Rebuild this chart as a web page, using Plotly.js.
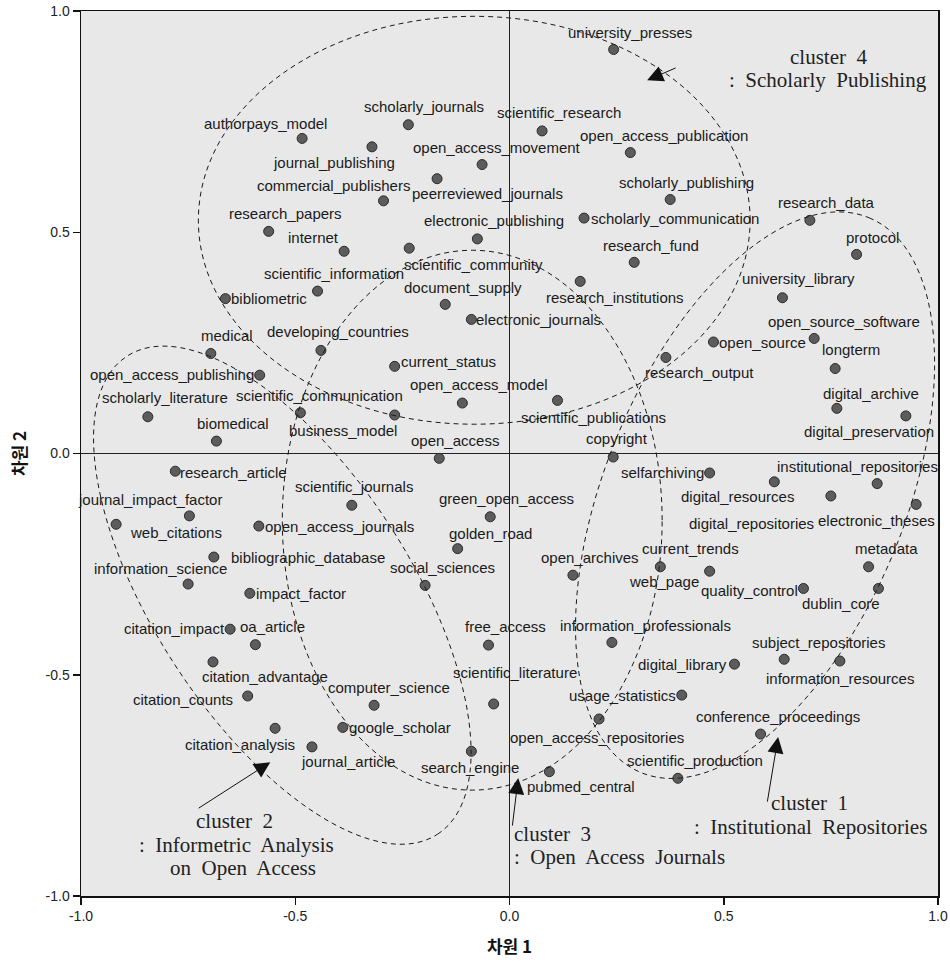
<!DOCTYPE html>
<html>
<head>
<meta charset="utf-8">
<script src="https://cdn.plot.ly/plotly-3.0.1.min.js"></script>
<style>
html,body{margin:0;padding:0;background:#fff;}
#chart{width:950px;height:962px;}
</style>
</head>
<body>
<div id="chart"></div>
<script>
// ---- data: MDS coordinates (차원 1, 차원 2) per keyword ----
const names = [
 "university_presses","scholarly_journals","scientific_research","authorpays_model","journal_publishing",
 "open_access_publication","open_access_movement","peerreviewed_journals","commercial_publishers","scholarly_publishing",
 "scholarly_communication","research_data","research_papers","electronic_publishing","scientific_community",
 "internet","protocol","research_fund","research_institutions","scientific_information",
 "university_library","bibliometric","document_supply","electronic_journals","open_source_software",
 "open_source","developing_countries","medical","research_output","current_status",
 "longterm","open_access_publishing","open_access_model","scientific_publications","digital_archive",
 "scientific_communication","business_model","digital_preservation","scholarly_literature","biomedical",
 "open_access","copyright","research_article","selfarchiving","digital_resources",
 "institutional_repositories","digital_repositories","scientific_journals","electronic_theses","journal_impact_factor",
 "web_citations","open_access_journals","green_open_access","golden_road","bibliographic_database",
 "current_trends","web_page","social_sciences","open_archives","information_science",
 "metadata","quality_control","dublin_core","impact_factor","citation_impact",
 "oa_article","free_access","information_professionals","subject_repositories","information_resources",
 "citation_advantage","digital_library","citation_counts","usage_statistics","scientific_literature",
 "computer_science","google_scholar","citation_analysis","conference_proceedings","journal_article",
 "open_access_repositories","search_engine","pubmed_central","scientific_production"
];
const dim1 = [
 0.243,-0.236,0.076,-0.484,-0.321,
 0.282,-0.064,-0.169,-0.294,0.375,
 0.174,0.701,-0.562,-0.075,-0.234,
 -0.386,0.810,0.291,0.165,-0.448,
 0.637,-0.663,-0.150,-0.089,0.711,
 0.476,-0.440,-0.697,0.365,-0.268,
 0.760,-0.583,-0.110,0.112,0.764,
 -0.488,-0.268,0.925,-0.844,-0.684,
 -0.164,0.242,-0.780,0.467,0.618,
 0.858,0.750,-0.368,0.949,-0.747,
 -0.918,-0.585,-0.045,-0.121,-0.690,
 0.467,0.352,-0.197,0.148,-0.750,
 0.838,0.686,0.861,-0.606,-0.652,
 -0.593,-0.049,0.239,0.641,0.771,
 -0.692,0.525,-0.611,0.402,-0.037,
 -0.316,-0.389,-0.547,0.586,-0.461,
 0.209,-0.089,0.093,0.393
];
const dim2 = [
 0.913,0.743,0.729,0.712,0.693,
 0.680,0.653,0.621,0.571,0.574,
 0.532,0.527,0.502,0.485,0.464,
 0.457,0.450,0.432,0.389,0.367,
 0.352,0.350,0.337,0.303,0.260,
 0.252,0.233,0.226,0.217,0.197,
 0.192,0.177,0.114,0.120,0.102,
 0.092,0.087,0.085,0.083,0.028,
 -0.011,-0.008,-0.040,-0.044,-0.064,
 -0.068,-0.096,-0.117,-0.115,-0.141,
 -0.160,-0.164,-0.143,-0.215,-0.234,
 -0.266,-0.256,-0.298,-0.275,-0.295,
 -0.256,-0.305,-0.305,-0.316,-0.397,
 -0.432,-0.433,-0.427,-0.465,-0.469,
 -0.471,-0.476,-0.548,-0.546,-0.566,
 -0.569,-0.619,-0.621,-0.634,-0.663,
 -0.600,-0.673,-0.719,-0.734
];
const tickVals = [-1.0,-0.5,0.0,0.5,1.0];
const tickText = ["-1.0","-0.5","0.0","0.5","1.0"];

// ---- label placement (anchor, px shift x, px shift down) ----
const labelPlace = [
 ['c',16,-17],['c',16,-18],['c',17,-18],['c',-37,-15],['c',-38,16],
 ['c',34,-17],['c',15,-17],['c',50,15],['c',-50,-15],['c',16,-17],
 ['l',6,0],['c',17,-18],['c',17,-18],['c',17,-18],['c',64,16],
 ['c',-31,-14],['c',16,-17],['c',17,-17],['c',35,16],['c',16,-18],
 ['c',16,-19],['l',5,0],['c',18,-17],['l',4,0],['c',30,-17],
 ['l',5,1],['c',17,-19],['c',16,-18],['c',34,15],['l',5,-5],
 ['c',16,-19],['r',-5,-1],['c',17,-19],['c',36,17],['c',34,-15],
 ['c',19,-17],['c',-52,15],['c',-37,16],['c',17,-19],['c',17,-18],
 ['c',16,-18],['c',4,-19],['l',4,1],['r',-5,0],['c',-37,15],
 ['c',-20,-17],['c',-79,28],['c',2,-19],['c',-40,16],['c',-39,-16],
 ['l',13,8],['l',5,0],['c',16,-18],['c',33,-15],['l',16,0],
 ['c',-19,-23],['c',4,15],['c',17,-18],['c',17,-18],['c',-28,-16],
 ['c',18,-18],['r',-4,2],['c',-37,15],['l',5,0],['r',-4,-1],
 ['c',17,-18],['c',17,-19],['c',34,-17],['c',34,-17],['c',0,17],
 ['c',52,15],['r',-6,0],['r',-14,4],['r',-5,0],['c',21,-31],
 ['c',15,-18],['l',5,0],['c',-35,16],['c',17,-18],['c',36,15],
 ['c',-2,18],['c',-1,16],['c',32,15],['c',17,-18]
];

// ---- cluster ellipses: centre and two conjugate semi-axes (data units) ----
const ellipses = [
 {c:[0.5731,-0.0942], a:[0.2659,0.627],  b:[0.3237,-0.1288]}, // cluster 1
 {c:[-0.5302,-0.3202],a:[0.3623,-0.5402],b:[0.2505,0.1577]},  // cluster 2
 {c:[-0.087,-0.1507], a:[0.4432,0],      b:[0,0.61]},         // cluster 3
 {c:[-0.0823,0.5271], a:[0.6438,0],      b:[0,0.4609]}        // cluster 4
];
function ellipsePath(e){
  const k=0.5523, c=e.c, A=e.a, B=e.b;
  const p=(s,t)=> (c[0]+s*A[0]+t*B[0]).toFixed(4)+','+(c[1]+s*A[1]+t*B[1]).toFixed(4);
  return 'M'+p(1,0)+
    ' C'+p(1,k)+' '+p(k,1)+' '+p(0,1)+
    ' C'+p(-k,1)+' '+p(-1,k)+' '+p(-1,0)+
    ' C'+p(-1,-k)+' '+p(-k,-1)+' '+p(0,-1)+
    ' C'+p(k,-1)+' '+p(1,-k)+' '+p(1,0)+' Z';
}
const shapes = ellipses.map(e=>({
  type:'path', xref:'x', yref:'y', path:ellipsePath(e),
  line:{color:'#1a1a1a', width:1, dash:'5px,4px'}, fillcolor:'rgba(0,0,0,0)', layer:'above'
}));

const labelFont = {family:'"Liberation Sans", Arial, sans-serif', size:15, color:'#1a1a1a'};
const anchorMap = {l:'left', c:'center', r:'right'};
const annotations = names.map((n,i)=>({
  x:dim1[i], y:dim2[i], xref:'x', yref:'y', text:n, showarrow:false,
  xanchor:anchorMap[labelPlace[i][0]], yanchor:'middle',
  xshift:labelPlace[i][1], yshift:-labelPlace[i][2], font:labelFont, borderpad:0
}));

// cluster captions
const capFont = {family:'"Liberation Serif", "Times New Roman", serif', size:21, color:'#222'};
const captions = [
 {x:0.7434, y:0.8954, t:'cluster  4', a:'center'},
 {x:0.7434, y:0.8434, t:':  Scholarly  Publishing', a:'center'},
 {x:-0.6422,y:-0.8308,t:'cluster  2', a:'center'},
 {x:-0.638, y:-0.8846,t:':  Informetric  Analysis', a:'center'},
 {x:-0.6212,y:-0.9366,t:'on  Open  Access', a:'center'},
 {x:0.0086, y:-0.8601,t:'cluster  3', a:'left'},
 {x:0.0086, y:-0.9121,t:':  Open  Access  Journals', a:'left'},
 {x:0.701,  y:-0.7901,t:'cluster  1', a:'center'},
 {x:0.7033, y:-0.8438,t:':  Institutional  Repositories', a:'center'}
];
captions.forEach(c=>annotations.push({x:c.x,y:c.y,xref:'x',yref:'y',text:c.t,showarrow:false,
  xanchor:c.a,yanchor:'middle',font:capFont,borderpad:0}));

// arrows: head -> tail
const arrows = [
 {hx:0.3212, hy:0.8434, tx:0.3912, ty:0.8728},
 {hx:-0.5582,hy:-0.6975,tx:-0.729, ty:-0.8037},
 {hx:0.0203, hy:-0.7336,tx:0.0063, ty:-0.8443},
 {hx:0.6269, hy:-0.6409,tx:0.6012, ty:-0.7901}
];
arrows.forEach(a=>annotations.push({x:a.hx,y:a.hy,xref:'x',yref:'y',ax:a.tx,ay:a.ty,axref:'x',ayref:'y',
  text:'',showarrow:true,arrowhead:2,arrowsize:3.2,arrowwidth:1,arrowcolor:'#111',standoff:0,startstandoff:0}));

const trace = {
  x:dim1, y:dim2, text:names, type:'scatter', mode:'markers', hoverinfo:'text',
  marker:{size:10, color:'#5c5c5c', line:{color:'#2b2b2b', width:1}},
  cliponaxis:false
};

const tickFont = {family:'"Liberation Sans Narrow", "Liberation Sans", Arial, sans-serif', size:14, color:'#222'};
const titleFont = {family:'"Noto Sans CJK KR", "Noto Sans", sans-serif', size:17, color:'#111', weight:'bold'};

const layout = {
  width:950, height:962,
  margin:{l:81, r:12, t:11, b:66},
  paper_bgcolor:'#ffffff', plot_bgcolor:'#e8e8e8',
  showlegend:false,
  xaxis:{range:[-1,1], tickvals:tickVals, ticktext:tickText, ticks:'outside', ticklen:7, tickwidth:1.5,
    tickcolor:'#111', showgrid:false, zeroline:true, zerolinecolor:'#222', zerolinewidth:1,
    showline:true, linecolor:'#111', linewidth:1.5, mirror:true, tickfont:tickFont,
    title:{text:'<b>차원 1</b>', font:titleFont, standoff:18}, fixedrange:true},
  yaxis:{range:[-1,1], tickvals:tickVals, ticktext:tickText, ticks:'outside', ticklen:7, tickwidth:1.5,
    tickcolor:'#111', showgrid:false, zeroline:true, zerolinecolor:'#222', zerolinewidth:1,
    showline:true, linecolor:'#111', linewidth:1.5, mirror:true, tickfont:tickFont,
    title:{text:'<b>차원 2</b>', font:titleFont, standoff:14}, fixedrange:true},
  shapes:shapes,
  annotations:annotations
};

Plotly.newPlot('chart',[trace],layout,{displayModeBar:false, staticPlot:true});
</script>
</body>
</html>
